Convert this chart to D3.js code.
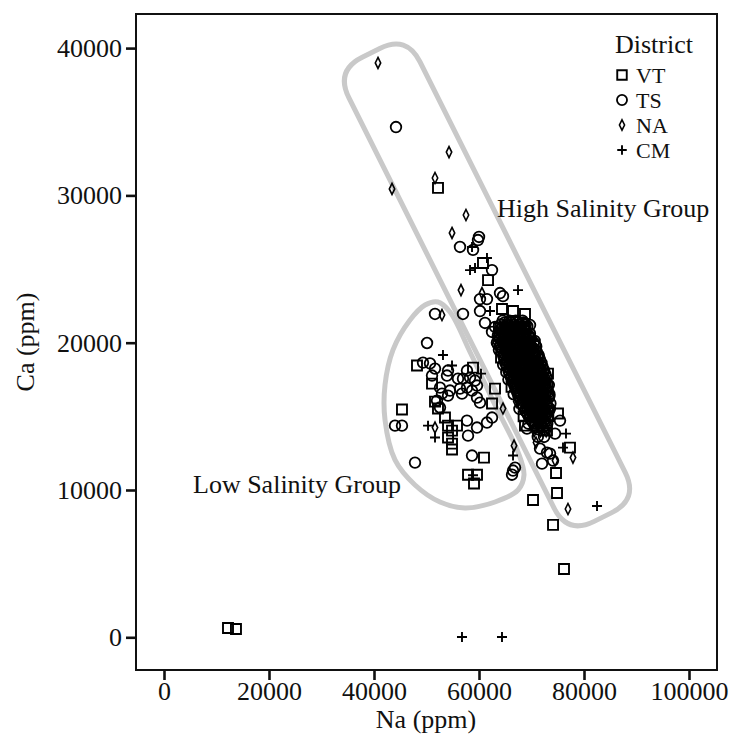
<!DOCTYPE html>
<html><head><meta charset="utf-8">
<script src="https://cdn.jsdelivr.net/npm/d3@7"></script>
<style>
body{margin:0;background:#fff}
text{font-family:"Liberation Serif","Times New Roman",serif;fill:#111}
</style>
</head><body>
<svg id="c" width="730" height="738"></svg>
<script>
// ---- data ----
const xTicks = [0, 20000, 40000, 60000, 80000, 100000];
const yTicks = [0, 10000, 20000, 30000, 40000];
const districts = ["VT", "TS", "NA", "CM"];

// [Na, Ca] pairs
const vtPoints = [
  [52190,30510],[60760,25410],[61720,24250],[64380,22290],[66480,22150],[68760,21950],
  [73140,17900],[63050,16880],[62480,15870],[75050,15190],[68760,14370],[72950,14030],
  [77330,12880],[74670,11150],[74860,9800],[70290,9320],[74100,7630],[76190,4640],
  [12190,630],[13710,560],
  [48190,18450],[58860,18310],[51050,17220],[51620,16000],[52190,15530],[45330,15460],
  [53520,14920],[54100,14370],[54860,14030],[55810,14370],[54100,13560],[54860,13150],
  [54860,12750],[60950,12200],[57910,11040],[59620,11040],[59050,10440]
];
const tsPoints = [
  [44190,34640],[60000,27180],[59810,26970],[58860,26300],[56380,26500],[62480,24930],
  [60190,22960],[61520,22960],[64000,23370],[64570,23160],[56950,21950],[60190,22150],
  [61140,21340],[63050,21070],[62480,20730],[69720,21200],[75430,14710],[69140,14170],
  [74480,13830],[71620,12810],[72950,12540],[73530,12470],[72000,11790],[74100,12000],
  [66860,11520],[66480,11320],[66290,11040],
  [51620,21950],[50100,19980],[49330,18650],[50670,18590],[51620,18240],[51050,17770],
  [54100,18110],[53900,17770],[57710,18110],[58290,17630],[56000,17560],[56950,17560],
  [59240,17430],[52570,16950],[54480,16750],[56380,16880],[57710,16950],[58670,16750],
  [59620,17090],[52950,16540],[54100,16410],[56760,16540],[59620,16270],[60190,15930],
  [52000,16070],[52570,15600],[44000,14370],[45330,14370],[57710,14710],[59620,14240],
  [61520,14580],[62480,14920],[57910,13690],[47810,11860],[58670,12340]
];
const naPoints = [
  [40760,38990],[43430,30440],[51620,31180],[54290,32940],[57520,28670],[54860,27450],
  [56570,23570],[60570,23370],[52950,21880],[64570,15530],[70860,13220],[66670,13010],
  [77900,12200],[74480,12000],[76950,8710],[51620,14240]
];
const cmPoints = [
  [58670,26500],[61520,25750],[58290,24930],[59240,25070],[67430,23570],[62100,22150],
  [76570,13830],[76000,12880],[66480,12340],[82480,8910],[56760,20],[64380,20],
  [53140,19170],[54860,18450],[60380,17900],[50290,14370],[51620,13560],[58860,11000]
];
// dense core: [Ca, [Na values]]
const tsDenseRows = [
  [21500,[64500,65800,67000,68300]],
  [21375,[64900,66100,67300,68500]],
  [21250,[64200,65400,66600,67800,68900]],
  [21125,[64500,65700,66900,68100,69200]],
  [20875,[64000,65200,66400,67600,68800]],
  [20750,[64200,65400,66600,67800,69000]],
  [20625,[63900,65100,66300,67500,68700,69700]],
  [20500,[63600,64800,66000,67200,68400,69500]],
  [20375,[63800,65000,66200,67400,68600,69700]],
  [20250,[64000,65200,66400,67600,68800,69900]],
  [20125,[63700,64900,66100,67300,68500,69700,70600]],
  [20000,[63400,64600,65800,67000,68200,69400,70400]],
  [19875,[63600,64800,66000,67200,68400,69600,70700]],
  [19750,[64000,65200,66400,67600,68800,70000,70900]],
  [19625,[64300,65500,66700,67900,69100,70300]],
  [19500,[63800,65000,66200,67400,68600,69800,70800]],
  [19375,[64300,65500,66700,67900,69100,70300,71000]],
  [19250,[64800,66000,67200,68400,69600,70700]],
  [19125,[64600,65800,67000,68200,69400,70600,71400]],
  [18875,[64800,66000,67200,68400,69600,70800,71600]],
  [18750,[65200,66400,67600,68800,70000,71100]],
  [18625,[65000,66200,67400,68600,69800,71000,71900]],
  [18500,[64600,65800,67000,68200,69400,70600,71700]],
  [18375,[65300,66500,67700,68900,70100,71300,72100]],
  [18250,[65800,67000,68200,69400,70600,71700]],
  [18125,[65600,66800,68000,69200,70400,71600,72400]],
  [18000,[65200,66400,67600,68800,70000,71200,72200]],
  [17875,[65800,67000,68200,69400,70600,71800,72600]],
  [17750,[66200,67400,68600,69800,71000,72100]],
  [17625,[66100,67300,68500,69700,70900,72100,72900]],
  [17500,[65600,66800,68000,69200,70400,71600,72600]],
  [17375,[66400,67600,68800,70000,71200,72300]],
  [17250,[66800,68000,69200,70400,71600,72600]],
  [17125,[66700,67900,69100,70300,71500,72600,73300]],
  [16875,[67000,68200,69400,70600,71800,72800]],
  [16750,[67200,68400,69600,70800,72000,73000]],
  [16625,[67300,68500,69700,70900,72100,73200]],
  [16500,[66600,67800,69000,70200,71400,72600,73400]],
  [16375,[67500,68700,69900,71100,72300,73400]],
  [16250,[67700,68900,70100,71300,72400,73300]],
  [16125,[67900,69100,70300,71500,72700]],
  [15875,[68100,69300,70500,71700,72800,73600]],
  [15750,[68300,69500,70700,71900,72900]],
  [15625,[68500,69700,70900,72100,73200]],
  [15500,[67700,68900,70100,71300,72500,73500]],
  [15375,[68800,70000,71200,72400,73300]],
  [15250,[69100,70300,71500,72700]],
  [15125,[69300,70500,71700,72800]],
  [14875,[69600,70800,72000,73000]],
  [14750,[70000,71200,72400]],
  [14625,[70200,71400,72600]],
  [14500,[69400,70600,71800,73000]],
  [14375,[70600,71800,72800]],
  [14250,[71100,72200]],
  [14125,[71200,72400]],
  [13600,[71200,72400]]
];
const vtDenseRows = [
  [21000,[63800,65000,66200,67400,68600]],
  [19000,[64200,65400,66600,67800,69000,70200,71200]],
  [17000,[66200,67400,68600,69800,71000,72100,73000]],
  [15000,[68500,69700,70900,72100,73200]]
];
const naDenseRows = [
  [16000,[67100,68300,69500,70700,71900,73000]],
  [14000,[70500,71700,72800]]
];
// outlines (data units)
const highGroupCorners = [[32650,38460],[46210,40880],[90400,9375],[76840,6960]];
const lowGroupOutline = [
  [52190,22760],[54480,22080],[58290,19370],[63050,15770],[67430,12580],[68570,11020],
  [67430,10000],[63050,9185],[57330,8780],[52570,9185],[47810,10340],[44000,12040],
  [42100,14750],[42100,17140],[43620,19510],[46860,21540],[49720,22560]
];

// ---- helpers ----
const rows = r => r.flatMap(([ca, nas]) => nas.map(na => [na, ca]));
const series = {
  VT: vtPoints.concat(rows(vtDenseRows)),
  TS: tsPoints.concat(rows(tsDenseRows)),
  NA: naPoints.concat(rows(naDenseRows)),
  CM: cmPoints
};

const svg = d3.select("#c");
const L = 136, R = 717, T = 14, B = 670;
const x = d3.scaleLinear().domain([-5333, 105333]).range([L, R]);
const y = d3.scaleLinear().domain([-2220, 42315]).range([B, T]);

const symbolPath = {
  VT: "M-5,-5H5V5H-5Z",
  TS: null,
  NA: "M0,-5.5L2.7,0L0,5.5L-2.7,0Z",
  CM: "M-5,0H5M0,-5V5"
};
function drawSymbol(g, key, scale) {
  const s = scale || 1;
  if (key === "TS") {
    g.append("circle").attr("r", 5.3 * s).attr("fill", "none").attr("stroke", "#000").attr("stroke-width", 1.8);
  } else {
    g.append("path").attr("d", symbolPath[key]).attr("transform", `scale(${s})`)
      .attr("fill", "none").attr("stroke", "#000")
      .attr("stroke-width", (key === "NA" ? 1.6 : 1.9) / s);
  }
}

// outlines
function roundedPath(pts, r) {
  const n = pts.length; let d = "";
  for (let i = 0; i < n; i++) {
    const p0 = pts[(i - 1 + n) % n], p1 = pts[i], p2 = pts[(i + 1) % n];
    const l1 = Math.hypot(p0[0]-p1[0], p0[1]-p1[1]), l2 = Math.hypot(p2[0]-p1[0], p2[1]-p1[1]);
    const a = [p1[0] + (p0[0]-p1[0]) / l1 * r, p1[1] + (p0[1]-p1[1]) / l1 * r];
    const b = [p1[0] + (p2[0]-p1[0]) / l2 * r, p1[1] + (p2[1]-p1[1]) / l2 * r];
    d += (i === 0 ? "M" : "L") + a[0] + "," + a[1] + "Q" + p1[0] + "," + p1[1] + " " + b[0] + "," + b[1];
  }
  return d + "Z";
}
svg.append("path")
  .attr("d", roundedPath(highGroupCorners.map(p => [x(p[0]), y(p[1])]), 30))
  .attr("fill", "none").attr("stroke", "#c9c9c9").attr("stroke-width", 5);
svg.append("path")
  .attr("d", d3.line().x(p => x(p[0])).y(p => y(p[1])).curve(d3.curveCatmullRomClosed.alpha(0.5))(lowGroupOutline))
  .attr("fill", "none").attr("stroke", "#c9c9c9").attr("stroke-width", 5);

// points
districts.forEach(k => {
  series[k].forEach(p => {
    const g = svg.append("g").attr("transform", `translate(${x(p[0])},${y(p[1])})`);
    drawSymbol(g, k);
  });
});

// frame
svg.append("rect").attr("x", L).attr("y", T).attr("width", R - L).attr("height", B - T)
  .attr("fill", "none").attr("stroke", "#111").attr("stroke-width", 2);

// axes
const xa = svg.append("g").attr("transform", `translate(0,${B})`)
  .call(d3.axisBottom(x).tickValues(xTicks).tickFormat(d3.format("d")).tickSize(10).tickPadding(2));
const ya = svg.append("g").attr("transform", `translate(${L},0)`)
  .call(d3.axisLeft(y).tickValues(yTicks).tickFormat(d3.format("d")).tickSize(10).tickPadding(4));
[xa, ya].forEach(a => {
  a.select(".domain").remove();
  a.selectAll(".tick line").attr("stroke", "#111").attr("stroke-width", 2.6);
  a.selectAll(".tick text").attr("font-size", 26).attr("font-family", '"Liberation Serif",serif').attr("fill", "#111");
});

// axis titles
svg.append("text").attr("x", 426).attr("y", 728).attr("text-anchor", "middle").attr("font-size", 26).text("Na (ppm)");
svg.append("text").attr("transform", "translate(34,342) rotate(-90)").attr("text-anchor", "middle").attr("font-size", 26).text("Ca (ppm)");

// annotations
svg.append("text").attr("x", 497).attr("y", 217).attr("font-size", 26).text("High Salinity Group");
svg.append("text").attr("x", 193).attr("y", 493).attr("font-size", 26).text("Low Salinity Group");

// legend
svg.append("text").attr("x", 615).attr("y", 53).attr("font-size", 26).text("District");
districts.forEach((k, i) => {
  const cy = 75 + i * 25;
  const g = svg.append("g").attr("transform", `translate(622,${cy})`);
  drawSymbol(g, k, 0.95);
  svg.append("text").attr("x", 636).attr("y", cy + 8).attr("font-size", 22).text(k);
});
</script>
</body></html>
